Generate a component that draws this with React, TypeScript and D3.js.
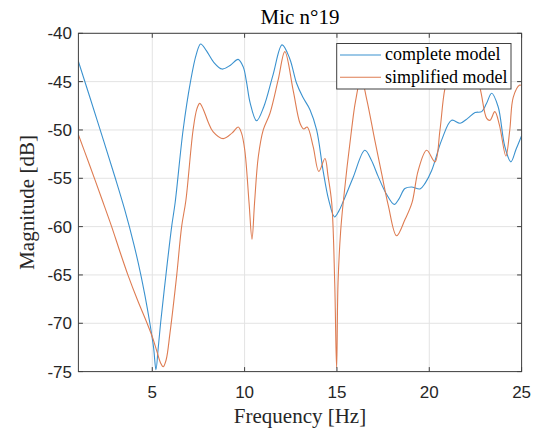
import React from "react";
import * as d3 from "d3";

const completeFreq = [1, 2, 3, 3.5, 4, 4.36, 4.61, 4.87, 5.07, 5.2, 5.32, 5.45, 5.74, 6.05, 6.24, 6.67, 7.07, 7.38, 7.62, 7.93, 8.33, 8.78, 9.23, 9.65, 9.93, 10.1, 10.3, 10.65, 11.04, 11.54, 12.03, 12.44, 12.82, 13.15, 13.54, 13.9, 14.25, 14.55, 14.87, 15.1, 15.34, 15.86, 16.51, 16.86, 17.23, 17.67, 18.1, 18.37, 18.68, 19.04, 19.5, 19.78, 20.13, 20.67, 21.21, 21.67, 22.08, 22.48, 22.84, 23.09, 23.38, 23.73, 24.09, 24.42, 24.7, 25];
const completeDb = [-42.9, -48.9, -55.0, -58.2, -61.8, -64.8, -67.2, -70, -72.5, -74.8, -72.6, -70, -65, -60, -57.5, -50, -45, -42.2, -41.1, -41.8, -43.0, -43.7, -43.3, -42.7, -43.5, -45.0, -47.2, -49.05, -47.6, -44.3, -41.2, -42.6, -45.2, -46.6, -47.9, -50, -54.2, -57.2, -59.0, -58.4, -57.4, -55.0, -52.1, -53.1, -54.8, -56.6, -57.7, -57.1, -56.05, -55.9, -56.1, -55.5, -54.2, -51.05, -49.0, -49.3, -48.8, -48.2, -48.1, -47.3, -46.2, -47.6, -51.7, -53.3, -52.0, -50.6];

const simplifiedFreq = [1, 1.6, 2.28, 2.8, 3.25, 3.7, 4.2, 4.72, 5.0, 5.25, 5.45, 5.59, 5.75, 5.96, 6.32, 6.59, 6.82, 7.21, 7.42, 7.57, 7.77, 8.03, 8.3, 8.84, 9.33, 9.65, 9.83, 10.01, 10.24, 10.4, 10.54, 10.74, 11.01, 11.37, 11.82, 12.18, 12.63, 13.0, 13.2, 13.39, 13.71, 14.02, 14.35, 14.52, 14.72, 14.88, 14.98, 15.06, 15.2, 15.34, 15.79, 16.01, 16.31, 16.61, 17.05, 17.42, 17.78, 18.23, 18.68, 19.07, 19.4, 19.86, 20.31, 20.58, 20.85, 21.3, 21.8, 22.3, 22.75, 23.11, 23.29, 23.55, 23.8, 24.15, 24.36, 24.55, 24.9, 25];
const simplifiedDb = [-50.5, -53.6, -57.2, -60, -62.6, -65.1, -67.6, -70, -71.4, -72.9, -74.1, -74.5, -73.8, -71.0, -65.1, -60, -57.3, -50, -47.8, -47.25, -47.9, -49.2, -50.2, -50.9, -50.3, -49.7, -50.3, -52.1, -57.5, -61.3, -57.5, -52.8, -50, -48.3, -44.8, -41.9, -45.9, -49.3, -49.9, -49.7, -51.7, -54.3, -52.95, -54.8, -57.6, -65.8, -74.6, -65.8, -60.5, -57.5, -50, -47, -44.6, -46.8, -51.05, -54.5, -57.8, -60.95, -59.3, -57.5, -54.2, -52.1, -53.3, -50, -45.7, -42.8, -42.3, -43.2, -45.7, -48.8, -49, -48.1, -49.5, -52.7, -50, -46.6, -45.35, -45.4];

const xTicks = [5, 10, 15, 20, 25];
const yTicks = [-75, -70, -65, -60, -55, -50, -45, -40];
const seriesNames = ["complete model", "simplified model"];
const seriesColors = ["#3b92cf", "#de7c52"];
const titleText = "Mic n°19";
const xLabel = "Frequency [Hz]";
const yLabel = "Magnitude [dB]";

const W = 533, H = 429;
const L = 78.4, R = 521.6, T = 33.3, B = 371.6;

export default function App() {
  const x = d3.scaleLinear().domain([1, 25]).range([L, R]);
  const y = d3.scaleLinear().domain([-75, -40]).range([B, T]);
  const line = d3
    .line<[number, number]>()
    .x((d) => x(d[0]))
    .y((d) => y(d[1]))
    .curve(d3.curveCatmullRom.alpha(0.5));
  const series = [
    completeFreq.map((f, i) => [f, completeDb[i]] as [number, number]),
    simplifiedFreq.map((f, i) => [f, simplifiedDb[i]] as [number, number]),
  ];
  const axisColor = "#404040";
  const gridColor = "#e3e3e3";
  const tickLen = 4.5;
  const sans = "'Liberation Sans', Arial, sans-serif";
  const serif = "'Liberation Serif', 'Times New Roman', serif";
  const legX = 336.7, legY = 43.5, legW = 174.3, legH = 45.5;
  const rowY = [55, 77.3];

  return (
    <svg width={W} height={H} style={{ position: "absolute", left: 0, top: 0, background: "#fff" }}>
      <defs>
        <clipPath id="plotclip">
          <rect x={L} y={T} width={R - L} height={B - T} />
        </clipPath>
      </defs>
      <rect x={0} y={0} width={W} height={H} fill="#fff" />
      {xTicks.map((t) => (
        <line key={"gx" + t} x1={x(t)} x2={x(t)} y1={T} y2={B} stroke={gridColor} strokeWidth={1} />
      ))}
      {yTicks.map((t) => (
        <line key={"gy" + t} x1={L} x2={R} y1={y(t)} y2={y(t)} stroke={gridColor} strokeWidth={1} />
      ))}
      <g clipPath="url(#plotclip)">
        {series.map((s, i) => (
          <path key={i} d={line(s) || ""} fill="none" stroke={seriesColors[i]} strokeWidth={1.1} strokeLinejoin="round" />
        ))}
      </g>
      {xTicks.map((t) => (
        <g key={"tx" + t}>
          <line x1={x(t)} x2={x(t)} y1={B} y2={B - tickLen} stroke={axisColor} />
          <line x1={x(t)} x2={x(t)} y1={T} y2={T + tickLen} stroke={axisColor} />
          <text x={x(t)} y={398.3} textAnchor="middle" fontFamily={sans} fontSize={17} fill="#262626">
            {t}
          </text>
        </g>
      ))}
      {yTicks.map((t) => (
        <g key={"ty" + t}>
          <line x1={L} x2={L + tickLen} y1={y(t)} y2={y(t)} stroke={axisColor} />
          <line x1={R} x2={R - tickLen} y1={y(t)} y2={y(t)} stroke={axisColor} />
          <text x={72} y={y(t) + 6} textAnchor="end" fontFamily={sans} fontSize={17} fill="#262626">
            {t}
          </text>
        </g>
      ))}
      <rect x={L} y={T} width={R - L} height={B - T} fill="none" stroke={axisColor} strokeWidth={1} />
      <rect x={legX} y={legY} width={legW} height={legH} fill="#fff" stroke={axisColor} strokeWidth={1} />
      {seriesNames.map((n, i) => (
        <g key={n}>
          <line x1={340} x2={381} y1={rowY[i]} y2={rowY[i]} stroke={seriesColors[i]} strokeWidth={1.1} />
          <text x={385} y={rowY[i] + 5.2} fontFamily={serif} fontSize={18} fill="#000">
            {n}
          </text>
        </g>
      ))}
      <text x={(L + R) / 2} y={24} textAnchor="middle" fontFamily={serif} fontSize={21} fill="#000">
        {titleText}
      </text>
      <text x={(L + R) / 2} y={423.3} textAnchor="middle" fontFamily={serif} fontSize={21} fill="#262626">
        {xLabel}
      </text>
      <text
        transform={`translate(34,${(T + B) / 2}) rotate(-90)`}
        textAnchor="middle"
        fontFamily={serif}
        fontSize={21}
        fill="#262626"
      >
        {yLabel}
      </text>
    </svg>
  );
}
